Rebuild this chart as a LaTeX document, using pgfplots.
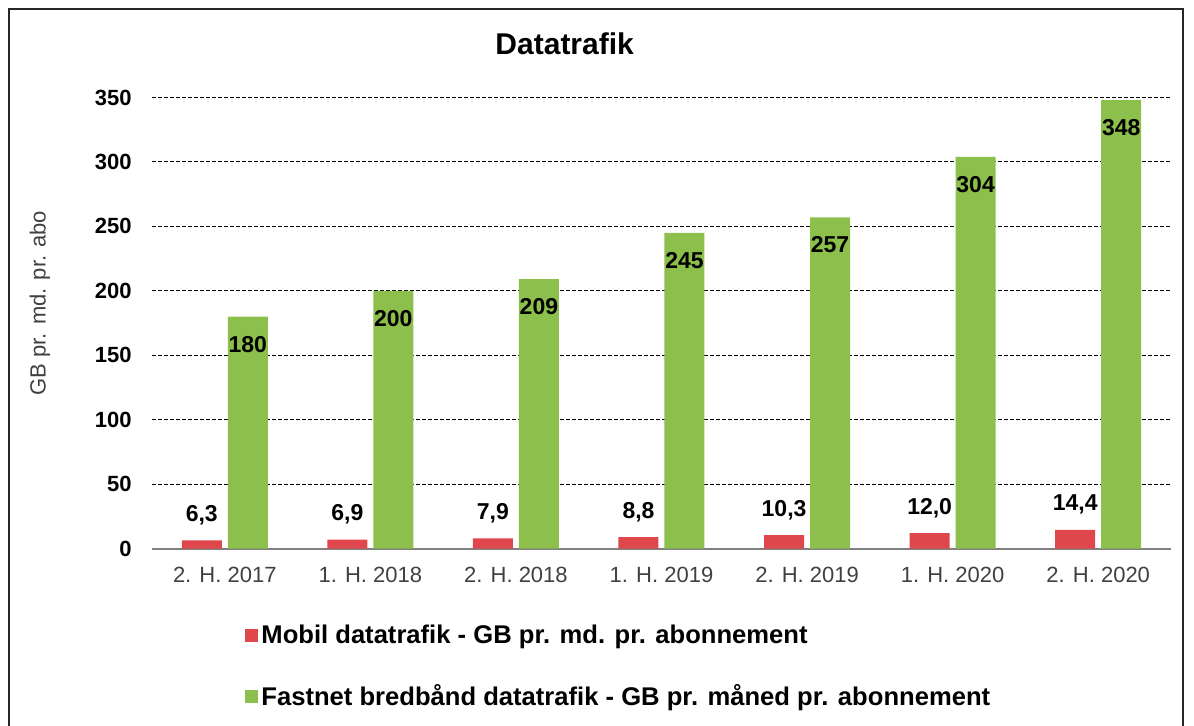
\documentclass[border=0pt]{standalone}
\usepackage{pgfplots}
\pgfplotsset{compat=1.18}
\usepackage{fontspec}
\setmainfont{Liberation Sans}
\definecolor{redbar}{HTML}{E0474C}
\definecolor{greenbar}{HTML}{8CBF4B}
\definecolor{txtgray}{HTML}{404040}
\definecolor{axgray}{HTML}{808080}
\begin{document}
\begin{tikzpicture}
\draw[line width=1pt, black!85] (4.25pt,-4.5pt) rectangle (591.5pt,-420pt);
\begin{axis}[
  at={(76pt,-274.25pt)}, anchor=south west,
  scale only axis, width=509.5pt, height=225.5pt,
  xmin=-0.5, xmax=6.5, ymin=0, ymax=350,
  xtick={0,...,6},
  xticklabels={2. H. 2017, 1. H. 2018, 2. H. 2018, 1. H. 2019, 2. H. 2019, 1. H. 2020, 2. H. 2020},
  ytick={0,50,...,350},
  /pgf/number format/assume math mode=true,
  font=\fontsize{11}{13}\selectfont,
  axis lines=left,
  y axis line style={draw=none},
  x axis line style={-, draw=axgray, line width=1pt},
  major tick length=0pt,
  ymajorgrids,
  grid style={black, line width=0.5pt, dash pattern=on 2pt off 1pt},
  xticklabel style={anchor=north, inner sep=0pt, yshift=-9pt, text=txtgray, font=\fontsize{11}{13}\selectfont},
  yticklabel style={anchor=east, inner sep=0pt, xshift=-10pt, text=black, font=\bfseries\fontsize{11}{13}\selectfont},
  ylabel={GB pr. md. pr. abo},
  ylabel style={at={(axis description cs:-0.1099,0.544)}, anchor=center, text=txtgray, font=\fontsize{11}{13}\selectfont},
  title={Datatrafik},
  title style={at={(axis description cs:0.405,1.092)}, anchor=center, font=\bfseries\fontsize{15}{18}\selectfont},
  ybar, bar width=20pt,
  legend style={at={(axis description cs:0.0913,-0.2614)}, anchor=west, draw=none, fill=none,
    font=\bfseries\fontsize{12.8}{15}\selectfont, row sep=16pt, inner sep=0pt,
    nodes={inner sep=1.5pt}},
  legend cell align=left,
  clip=false,
]
\addplot[fill=redbar, draw=none, bar shift=-11.5pt,
  legend image code/.code={\fill[fill=redbar] (0pt,-3.25pt) rectangle (6.5pt,3.25pt);},
  nodes near coords,
  nodes near coords style={anchor=base, inner sep=0pt, yshift=9.5pt, text=black, font=\bfseries\fontsize{11.5}{13}\selectfont,
    /pgf/number format/.cd, fixed, fixed zerofill, precision=1, use comma, assume math mode=true},
] coordinates {(0,6.3) (1,6.9) (2,7.9) (3,8.8) (4,10.3) (5,12.0) (6,14.4)};
\addlegendentry{Mobil datatrafik - GB pr. md. pr. abonnement}
\addplot[fill=greenbar, draw=none, bar shift=11.5pt,
  legend image code/.code={\fill[fill=greenbar] (0pt,-3.25pt) rectangle (6.5pt,3.25pt);},
  nodes near coords,
  nodes near coords style={anchor=north, inner sep=0pt, yshift=-9.5pt, text=black, font=\bfseries\fontsize{11.5}{13}\selectfont,
    /pgf/number format/.cd, fixed, precision=0, assume math mode=true},
] coordinates {(0,180) (1,200) (2,209) (3,245) (4,257) (5,304) (6,348)};
\addlegendentry{Fastnet bredbånd datatrafik - GB pr. måned pr. abonnement}
\end{axis}
\pgfresetboundingbox
\path[use as bounding box] (0pt,0pt) rectangle (597pt,-363pt);
\end{tikzpicture}
\end{document}
